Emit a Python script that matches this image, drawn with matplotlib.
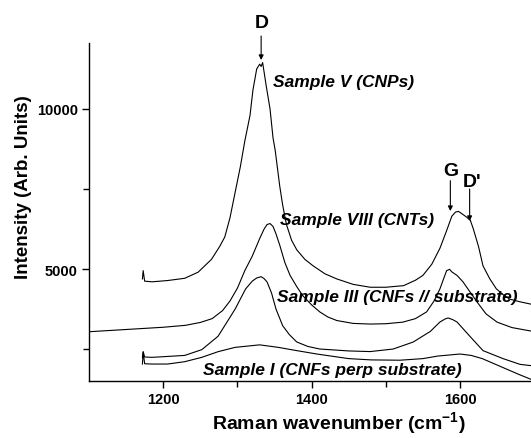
import numpy as np
import matplotlib
matplotlib.use("Agg")
import matplotlib.pyplot as plt

plt.rcParams['font.family'] = ['Liberation Sans', 'DejaVu Sans']
plt.rcParams['mathtext.fontset'] = 'custom'
plt.rcParams['mathtext.rm'] = 'Liberation Sans'
plt.rcParams['mathtext.bf'] = 'Liberation Sans:bold'

# Spectra (wavenumber in cm-1, intensity in arb. units)
wn_v = [1172, 1173, 1175, 1185, 1206, 1229, 1247, 1265, 1276, 1283, 1290, 1297,
        1304, 1310, 1317, 1321, 1326, 1330, 1332, 1334, 1339, 1344, 1348, 1351,
        1357, 1361, 1366, 1373, 1380, 1391, 1402, 1418, 1434, 1456, 1479, 1500,
        1524, 1540, 1550, 1562, 1573, 1582, 1589, 1594, 1598, 1603, 1609, 1614,
        1618, 1625, 1631, 1640, 1649, 1658, 1667, 1680, 1696]
int_v = [4690, 4950, 4620, 4600, 4640, 4710, 4900, 5300, 5700, 6000, 6600, 7400,
         8200, 9000, 9800, 10600, 11250, 11400, 11330, 11450, 10700, 10000, 9100, 8700,
         7600, 7000, 6400, 5900, 5600, 5300, 5100, 4850, 4690, 4520, 4430, 4430,
         4480, 4650, 4800, 5150, 5650, 6200, 6650, 6780, 6800, 6720, 6620, 6520,
         6250, 5700, 5100, 4700, 4380, 4200, 4060, 3980, 3900]

wn_viii = [1100, 1150, 1200, 1230, 1250, 1266, 1280, 1290, 1300, 1310, 1320, 1330,
           1336, 1340, 1344, 1348, 1352, 1357, 1364, 1371, 1380, 1388, 1400, 1411,
           1422, 1434, 1456, 1479, 1500, 1523, 1540, 1555, 1565, 1573, 1578, 1582,
           1586, 1589, 1596, 1604, 1613, 1623, 1635, 1650, 1670, 1696]
int_viii = [3040, 3110, 3180, 3240, 3330, 3450, 3700, 4000, 4400, 4950, 5400, 5950,
            6250, 6390, 6420, 6330, 6100, 5750, 5200, 4800, 4450, 4170, 3880, 3660,
            3500, 3390, 3300, 3280, 3290, 3340, 3450, 3660, 4000, 4380, 4700, 4950,
            4990, 4910, 4800, 4600, 4300, 3970, 3600, 3340, 3170, 3060]

wn_iii = [1172, 1173, 1175, 1185, 1200, 1229, 1252, 1274, 1297, 1311, 1320, 1326,
          1332, 1336, 1340, 1346, 1352, 1361, 1370, 1380, 1395, 1411, 1450, 1479,
          1510, 1537, 1560, 1573, 1580, 1584, 1590, 1596, 1613, 1631, 1658, 1681, 1696]
int_iii = [2240, 2420, 2250, 2240, 2260, 2300, 2480, 2900, 3750, 4375, 4620, 4720,
           4760, 4700, 4594, 4250, 3750, 3230, 2950, 2720, 2580, 2500, 2440, 2420,
           2500, 2719, 3050, 3344, 3440, 3470, 3420, 3344, 2906, 2450, 2200, 2020, 1980]

wn_i = [1172, 1173, 1175, 1185, 1206, 1229, 1252, 1274, 1297, 1319, 1330, 1355,
        1380, 1407, 1450, 1480, 1519, 1550, 1570, 1600, 1615, 1630, 1660, 1680, 1696]
int_i = [2030, 2400, 2040, 2030, 2031, 2104, 2240, 2417, 2552, 2604, 2630, 2552,
         2450, 2344, 2200, 2160, 2150, 2200, 2280, 2344, 2300, 2200, 1900, 1700, 1550]

labels = ["Sample V (CNPs)", "Sample VIII (CNTs)",
          "Sample III (CNFs // substrate)", "Sample I (CNFs perp substrate)"]
label_pos = [(1348, 10844), (1357, 6562), (1353, 4156), (1254, 1875)]

fig = plt.figure(figsize=(5.31, 4.39), dpi=100)
ax = fig.add_axes([89 / 531, 57.3 / 439, 442 / 531, 337.7 / 439])

for wn, inten in [(wn_v, int_v), (wn_viii, int_viii), (wn_iii, int_iii), (wn_i, int_i)]:
    ax.plot(wn, inten, color='black', lw=0.8)

for txt, (x, y) in zip(labels, label_pos):
    ax.text(x, y, txt, fontsize=12.5, fontweight='bold', style='italic',
            ha='left', va='center')

# peak markers
arrow = dict(arrowstyle='-|>', color='black', lw=0.8, mutation_scale=7,
             shrinkA=0, shrinkB=0)
ax.annotate('', xy=(1332, 11530), xytext=(1332, 12280), arrowprops=arrow,
            annotation_clip=False)
ax.text(1333, 12700, 'D', fontsize=14, fontweight='bold', ha='center',
        va='center', clip_on=False)
ax.annotate('', xy=(1587, 6810), xytext=(1587, 7760), arrowprops=arrow)
ax.text(1588, 8080, 'G', fontsize=14, fontweight='bold', ha='center', va='center')
ax.annotate('', xy=(1613, 6500), xytext=(1613, 7500), arrowprops=arrow)
ax.text(1616, 7720, "D'", fontsize=14, fontweight='bold', ha='center', va='center')

ax.set_xlim(1100, 1695.7)
ax.set_ylim(1510, 12062)
ax.set_xticks([1200, 1400, 1600])
ax.set_xticks([1300, 1500], minor=True)
ax.set_yticks([5000, 10000])
ax.set_yticks([2500, 7500], minor=True)

for s in ['top', 'right']:
    ax.spines[s].set_visible(False)
for s in ['left', 'bottom']:
    ax.spines[s].set_linewidth(1.0)

ax.tick_params(which='major', direction='out', length=5, width=1.0, pad=3,
               labelsize=10.5)
ax.tick_params(which='minor', direction='out', length=4, width=1.0)
for lab in ax.get_xticklabels() + ax.get_yticklabels():
    lab.set_fontweight('bold')

ax.set_xlabel(r'Raman wavenumber (cm$^{\mathbf{-1}}$)', fontsize=14,
              fontweight='bold')
ax.set_ylabel('Intensity (Arb. Units)', fontsize=13.5, fontweight='bold')
ax.xaxis.set_label_coords(0.565, -0.085)
ax.yaxis.set_label_coords(-0.13, 0.575)

fig.savefig('out.png', dpi=100)
